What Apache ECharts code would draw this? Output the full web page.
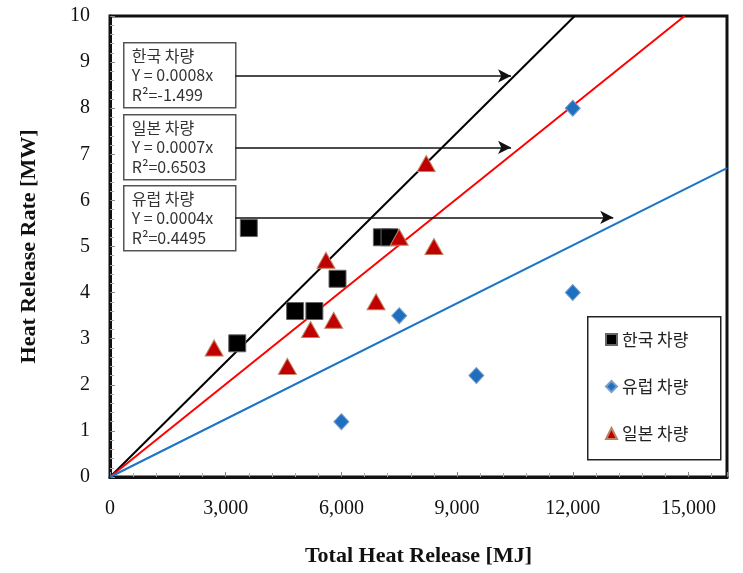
<!DOCTYPE html>
<html>
<head>
<meta charset="utf-8">
<script src="https://cdn.jsdelivr.net/npm/echarts@6/dist/echarts.min.js"></script>
<style>
html,body{margin:0;padding:0;background:#fff;}
#main{width:743px;height:573px;}
</style>
</head>
<body>
<div id="main"></div>
<script>
// 데이터
var koreaData  = [[3300,2.9],[3600,5.4],[4800,3.6],[5300,3.6],[5900,4.3],[7050,5.2],[7250,5.2]];
var europeData = [[6000,1.2],[7500,3.5],[9500,2.2],[12000,4.0],[12000,8.0]];
var japanData  = [[2700,2.8],[4600,2.4],[5200,3.2],[5800,3.4],[5600,4.7],[6900,3.8],[7500,5.2],[8400,5.0],[8200,6.8]];
// 추세선 (시작점, 끝점)
var koreaFit  = [[0,0],[12050,10]];
var japanFit  = [[0,0],[14900,10]];
var europeFit = [[0,0],[16000,6.7]];
// 화살표 (x시작, x끝, y)
var arrowLines = [[3250,10400,8.7],[3250,10400,7.15],[3250,13050,5.63]];
// 주석 박스 텍스트
var boxTitles = ['한국 차량','일본 차량','유럽 차량'];
var boxEqs    = ['Y = 0.0008x','Y = 0.0007x','Y = 0.0004x'];
var boxR2     = ['R²=-1.499','R²=0.6503','R²=0.4495'];
var xTicks = [0,3000,6000,9000,12000,15000];

var serif = '"Liberation Serif","DejaVu Serif",serif';
var kr = '"Noto Sans CJK KR","Noto Sans",sans-serif';

var myChart = echarts.init(document.getElementById('main'));

var markData = [];
for (var i = 0; i < arrowLines.length; i++){
	var a = arrowLines[i];
	markData.push([{coord:[a[0],a[2]]},{coord:[a[1],a[2]]}]);
}

var boxGraphics = [];
var boxTop = [42,114,185];
for (var b = 0; b < boxTitles.length; b++){
	boxGraphics.push({
		type:'group',
		left:123,
		top:boxTop[b],
		children:[
			{type:'rect',shape:{x:0,y:0,width:112,height:65},style:{fill:'#fff',stroke:'#555',lineWidth:1.5}},
			{type:'text',x:8,y:3,style:{text:boxTitles[b]+'\n'+boxEqs[b]+'\n'+boxR2[b],font:'16px '+kr,fill:'#333',lineHeight:19.5}}
		]
	});
}
boxGraphics.push({
	type:'rect',left:587,top:316,shape:{x:0,y:0,width:133,height:143},
	style:{fill:'#fff',stroke:'#222',lineWidth:1.5},z:0
});

var option = {
	animation:false,
	backgroundColor:'#fff',
	grid:{left:110,right:16,top:16,bottom:96,show:true,borderColor:'#111',borderWidth:3,backgroundColor:'transparent'},
	legend:{
		orient:'vertical',
		left:600,
		top:326,
		itemGap:30,
		itemWidth:11,
		itemHeight:11,
		data:['한국 차량','유럽 차량','일본 차량'],
		textStyle:{fontFamily:kr,fontSize:17,color:'#222'},
		z:10
	},
	xAxis:{
		type:'value',
		min:0,max:16000,interval:3000,
		name:'Total Heat Release [MJ]',
		nameLocation:'middle',
		nameGap:68,
		nameTextStyle:{fontFamily:serif,fontSize:22,fontWeight:'bold',color:'#111'},
		axisLine:{show:true,lineStyle:{color:'#111',width:3}},
		axisTick:{show:true,inside:true,length:5,lineStyle:{color:'#888'}},
		minorTick:{show:true,splitNumber:5,length:4,lineStyle:{color:'#aaa'}},
		splitLine:{show:false},
		axisLabel:{
			fontFamily:serif,fontSize:20,color:'#111',margin:22,showMaxLabel:false,
			formatter:function(v){return xTicks.indexOf(v)>=0 ? String(v).replace(/\B(?=(\d{3})+(?!\d))/g,',') : '';}
		}
	},
	yAxis:{
		type:'value',
		min:0,max:10,interval:1,
		name:'Heat Release Rate [MW]',
		nameLocation:'middle',
		nameGap:70,
		nameTextStyle:{fontFamily:serif,fontSize:22,fontWeight:'bold',color:'#111'},
		axisLine:{show:true,lineStyle:{color:'#111',width:3}},
		axisTick:{show:true,inside:true,length:5,lineStyle:{color:'#888'}},
		minorTick:{show:true,splitNumber:5,length:4,lineStyle:{color:'#aaa'}},
		splitLine:{show:false},
		axisLabel:{fontFamily:serif,fontSize:20,color:'#111',margin:20}
	},
	graphic:boxGraphics,
	series:[
		{type:'line',data:koreaFit,symbol:'none',lineStyle:{color:'#000',width:2},z:2,silent:true},
		{type:'line',data:japanFit,symbol:'none',lineStyle:{color:'#ff0000',width:2},z:2,silent:true},
		{type:'line',data:europeFit,symbol:'none',lineStyle:{color:'#1a75c8',width:2},z:2,silent:true},
		{
			type:'line',data:[],symbol:'none',z:3,
			markLine:{
				silent:true,
				symbol:['none','arrow'],
				symbolSize:[10,13],
				label:{show:false},
				lineStyle:{color:'#111',width:1.5,type:'solid'},
				data:markData
			}
		},
		{name:'한국 차량',type:'scatter',data:koreaData,symbol:'rect',symbolSize:17,
			itemStyle:{color:'#000',borderColor:'#666',borderWidth:1,opacity:1},z:5},
		{name:'유럽 차량',type:'scatter',data:europeData,symbol:'diamond',symbolSize:[15,16],
			itemStyle:{color:'#1f6fc0',borderColor:'#7a9cc8',borderWidth:1,opacity:1},z:5},
		{name:'일본 차량',type:'scatter',data:japanData,symbol:'triangle',symbolSize:[18,16],
			itemStyle:{color:'#c00000',borderColor:'#c08060',borderWidth:1,opacity:1},z:5}
	]
};
myChart.setOption(option);
</script>
</body>
</html>
